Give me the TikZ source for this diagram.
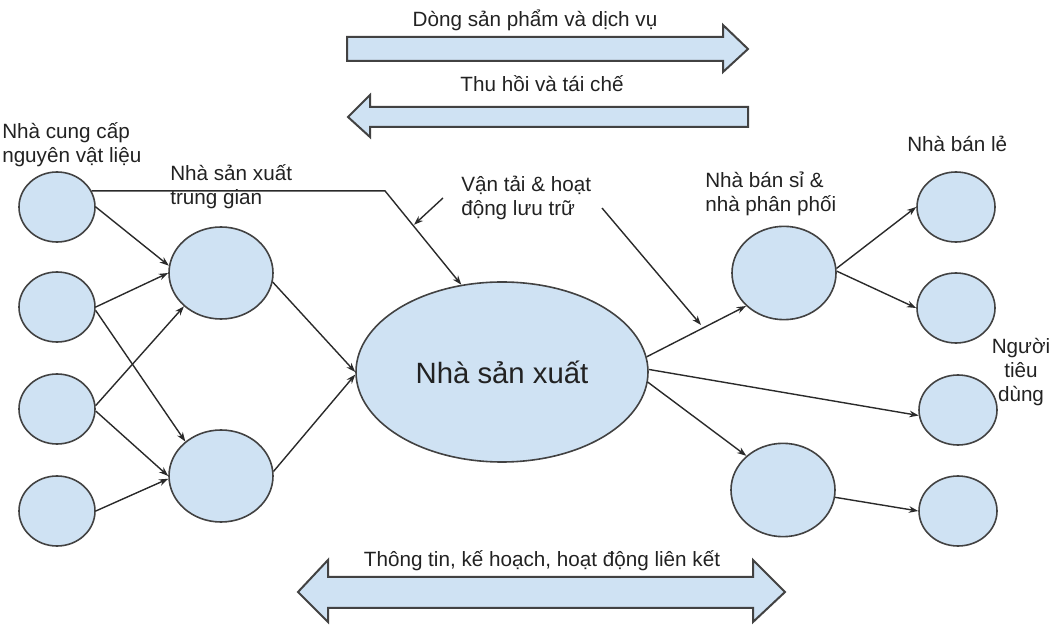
\documentclass[tikz,border=0pt]{standalone}
\usepackage{fontspec}
\setmainfont{Liberation Sans}
\usetikzlibrary{shapes.geometric,arrows.meta,calc}
\definecolor{fillc}{HTML}{CFE2F3}
\definecolor{edgec}{HTML}{424242}
\definecolor{linec}{HTML}{2A2A2A}
\definecolor{textc}{HTML}{222222}
\tikzset{
  bub/.style={ellipse, draw=edgec, fill=fillc, line width=1.2pt, inner sep=0pt},
  supp/.style={bub, minimum width=57pt, minimum height=52.5pt},
  midn/.style={bub, minimum width=78pt, minimum height=69pt},
  bign/.style={bub, minimum width=219pt, minimum height=135pt, font=\fontsize{22}{26}\selectfont, text=textc},
  retn/.style={bub, minimum width=58.5pt, minimum height=52.5pt},
  conn/.style={draw=linec, line width=1.05pt, -{Stealth[length=7pt,width=5pt]}},
  blockarrow/.style={draw=edgec, fill=fillc, line width=1.5pt, line join=miter},
  lbl/.style={font=\fontsize{15.5}{18}\selectfont, text=textc, inner sep=0pt, align=left, anchor=base west},
  clbl/.style={font=\fontsize{15.5}{18}\selectfont, text=textc, inner sep=0pt, align=center, anchor=base}
}
\begin{document}
\begin{tikzpicture}[x=0.75pt,y=-0.75pt]
\useasboundingbox (0,0) rectangle (1050,630);

% block arrows
\draw[blockarrow] (347,37) -- (723,37) -- (723,25) -- (748,49) -- (723,72) -- (723,61) -- (347,61) -- cycle;
\draw[blockarrow] (748,107) -- (370,107) -- (370,95) -- (348,117) -- (370,137) -- (370,127) -- (748,127) -- cycle;
\draw[blockarrow] (298,592) -- (328,560) -- (328,577) -- (753,577) -- (753,560) -- (785,592) -- (753,622) -- (753,608) -- (328,608) -- (328,622) -- cycle;

\node[clbl] (tflow) at (535,27) {Dòng sản phẩm và dịch vụ};
\node[clbl] (tret) at (542,92) {Thu hồi và tái chế};
\node[clbl] (tinfo) at (542,567) {Thông tin, kế hoạch, hoạt động liên kết};

% nodes
\node[supp] (s1) at (57,207) {};
\node[supp] (s2) at (57,307) {};
\node[supp] (s3) at (57,409) {};
\node[supp] (s4) at (57,511) {};
\node[midn] (ma) at (221,273) {};
\node[midn] (mb) at (221,476) {};
\node[bign] (big) at (502,372) {Nhà sản xuất};
\node[midn, minimum height=70pt] (c) at (784,273) {};
\node[midn, minimum height=70pt] (d) at (783,490) {};
\node[retn] (r1) at (956,207) {};
\node[retn] (r2) at (956,308) {};
\node[retn] (r3) at (958,410) {};
\node[retn] (r4) at (958,511) {};

% labels (base anchor = baseline of the last line)
\node[lbl] (lsup) at (2,163) {Nhà cung cấp\\nguyên vật liệu};
\node[lbl] (lmid) at (170,205) {Nhà sản xuất\\trung gian};
\node[lbl] (ltrans) at (461,216) {Vận tải \& hoạt\\động lưu trữ};
\node[lbl] (lwh) at (705,212) {Nhà bán sỉ \&\\nhà phân phối};
\node[lbl] (lret) at (907,152) {Nhà bán lẻ};
\node[clbl] (lcons) at (1021,402) {Người\\tiêu\\dùng};

% connectors
\coordinate (k) at (385,188);
\draw[conn] (s1.25) -- (k |- s1.25) -- (big.115);
\draw[conn] (s1.east) -- (ma.172);
\draw[conn] (s2.east) -- (ma.west);
\draw[conn] (s2.-5) -- (mb.136);
\draw[conn] (s3.5) -- (ma.222);
\draw[conn] (s3.-3) -- (mb.west);
\draw[conn] (s4.east) -- (mb.183);
\draw[conn] (ma.-10) -- (big.west);
\draw[conn] (mb.5) -- (big.181);
\draw[conn] (big.6) -- (c.221);
\draw[conn] (big.1) -- (r3.188);
\draw[conn] (big.-4) -- (d.137);
\draw[conn] (c.5) -- (r1.west);
\draw[conn] (c.2) -- (r2.west);
\draw[conn] (d.-8) -- (r4.west);

% pointers from the transport label
\coordinate (p1s) at (443,198);
\coordinate (p1e) at ($(k)!0.38!(big.115)$);
\draw[conn] (p1s) -- (p1e);
\coordinate (p2s) at (602,208);
\coordinate (p2e) at (701,325);
\draw[conn] (p2s) -- (p2e);
\end{tikzpicture}
\end{document}
